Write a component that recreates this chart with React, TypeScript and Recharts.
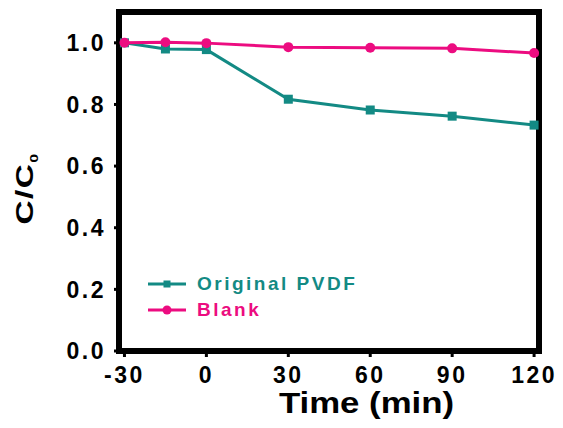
import React from 'react';
import { LineChart, Line, XAxis, YAxis, Legend, Label, ReferenceLine } from 'recharts';

// ---- data ----
const times = [-30, -15, 0, 30, 60, 90, 120];
const originalPVDF = [1.0, 0.98, 0.978, 0.817, 0.782, 0.762, 0.733];
const blankValues = [1.0, 1.002, 0.999, 0.986, 0.984, 0.982, 0.967];
const xTicks = [-30, 0, 30, 60, 90, 120];
const xDomain = [-32, 121.8];
const yTicks = [0, 0.2, 0.4, 0.6, 0.8, 1.0];
const yDomain = [0, 1.1];
const seriesNames = ['Original PVDF', 'Blank'];
const xLabel = 'Time (min)';

const TEAL = '#138A84';
const PINK = '#EC0C80';
const FONT = '"Liberation Sans", Arial, Helvetica, sans-serif';

const data = times.map((t, i) => ({ t, orig: originalPVDF[i], blank: blankValues[i] }));

const frameLine = { stroke: '#000', strokeWidth: 6, strokeLinecap: 'square' as const };
const tickLineStyle = { stroke: '#000', strokeWidth: 3 };
const tickFont = { fill: '#000', fontSize: 23, fontWeight: 'bold', fontFamily: FONT, letterSpacing: 2.5 };

const SquareDot = (props: any) => {
  const { cx, cy, index } = props;
  if (cx == null || cy == null) return <g key={`sq-${index}`} />;
  return <rect key={`sq-${index}`} x={cx - 4.5} y={cy - 4.5} width={9} height={9} fill={TEAL} />;
};

const legendItems = [
  { name: seriesNames[0], color: TEAL, shape: 'square' },
  { name: seriesNames[1], color: PINK, shape: 'circle' },
];

const renderLegend = () => (
  <div style={{ fontFamily: FONT, fontWeight: 'bold', fontSize: 19, letterSpacing: 2.5 }}>
    {legendItems.map((it) => (
      <div key={it.name} style={{ display: 'flex', alignItems: 'center', height: 26 }}>
        <svg width={38} height={14} style={{ display: 'block' }}>
          <line x1={0} y1={7} x2={38} y2={7} stroke={it.color} strokeWidth={3} />
          {it.shape === 'square' ? (
            <rect x={15.5} y={3.5} width={7} height={7} fill={it.color} />
          ) : (
            <circle cx={19} cy={7} r={4.5} fill={it.color} />
          )}
        </svg>
        <span style={{ marginLeft: 11, color: it.color, whiteSpace: 'nowrap' }}>{it.name}</span>
      </div>
    ))}
  </div>
);

export default function App() {
  return (
    <div style={{ position: 'absolute', left: 0, top: 0, width: 563, height: 428, background: '#fff' }}>
      <LineChart width={563} height={428} data={data} margin={{ top: 12, right: 24, bottom: 0, left: 0 }}>
        <XAxis
          dataKey="t"
          type="number"
          domain={xDomain}
          allowDataOverflow
          ticks={xTicks}
          height={77}
          axisLine={frameLine}
          tickLine={tickLineStyle}
          tickSize={6}
          tickMargin={10}
          tick={tickFont}
          interval={0}
        >
          <Label
            content={(p: any) => {
              const vb = p.viewBox || { x: 119, y: 351, width: 420 };
              const cx = vb.x + vb.width / 2 + 37.5;
              const cy = vb.y + 62;
              return (
                <text
                  transform={`translate(${cx},${cy}) scale(1.2,1)`}
                  textAnchor="middle"
                  fontSize={29}
                  fontWeight="bold"
                  fontFamily={FONT}
                  fill="#000"
                >
                  {xLabel}
                </text>
              );
            }}
          />
        </XAxis>
        <YAxis
          type="number"
          domain={yDomain}
          allowDataOverflow
          ticks={yTicks}
          width={119}
          axisLine={frameLine}
          tickLine={tickLineStyle}
          tickSize={5}
          tickMargin={8}
          tick={tickFont}
          tickFormatter={(v: number) => v.toFixed(1)}
          interval={0}
        >
          <Label
            content={(p: any) => {
              const vb = p.viewBox || { x: 0, y: 12, width: 119, height: 339 };
              const cx = vb.x + 33;
              const cy = vb.y + vb.height / 2 + 7;
              return (
                <text
                  transform={`translate(${cx},${cy}) rotate(-90) scale(1.45,1)`}
                  textAnchor="middle"
                  fontSize={23}
                  fontWeight="bold"
                  fontFamily={FONT}
                  fill="#000"
                  letterSpacing={1}
                >
                  C/C
                  <tspan fontSize={11} dy={5}>0</tspan>
                </text>
              );
            }}
          />
        </YAxis>
        <ReferenceLine y={yDomain[1]} stroke="#000" strokeWidth={6} strokeLinecap="square" />
        <ReferenceLine x={xDomain[1]} stroke="#000" strokeWidth={6} strokeLinecap="square" />
        <ReferenceLine y={yDomain[0]} stroke="#000" strokeWidth={6} strokeLinecap="square" />
        <ReferenceLine x={xDomain[0]} stroke="#000" strokeWidth={6} strokeLinecap="square" />
        <Legend
          layout="vertical"
          align="center"
          verticalAlign="middle"
          content={renderLegend}
          wrapperStyle={{ position: 'absolute', left: 148, top: 271, width: 260, height: 52 }}
        />
        <Line
          name={seriesNames[0]}
          dataKey="orig"
          stroke={TEAL}
          strokeWidth={3}
          dot={SquareDot}
          activeDot={false}
          isAnimationActive={false}
        />
        <Line
          name={seriesNames[1]}
          dataKey="blank"
          stroke={PINK}
          strokeWidth={3}
          dot={{ r: 5, fill: PINK, stroke: PINK, strokeWidth: 0 }}
          activeDot={false}
          isAnimationActive={false}
        />
      </LineChart>
    </div>
  );
}
